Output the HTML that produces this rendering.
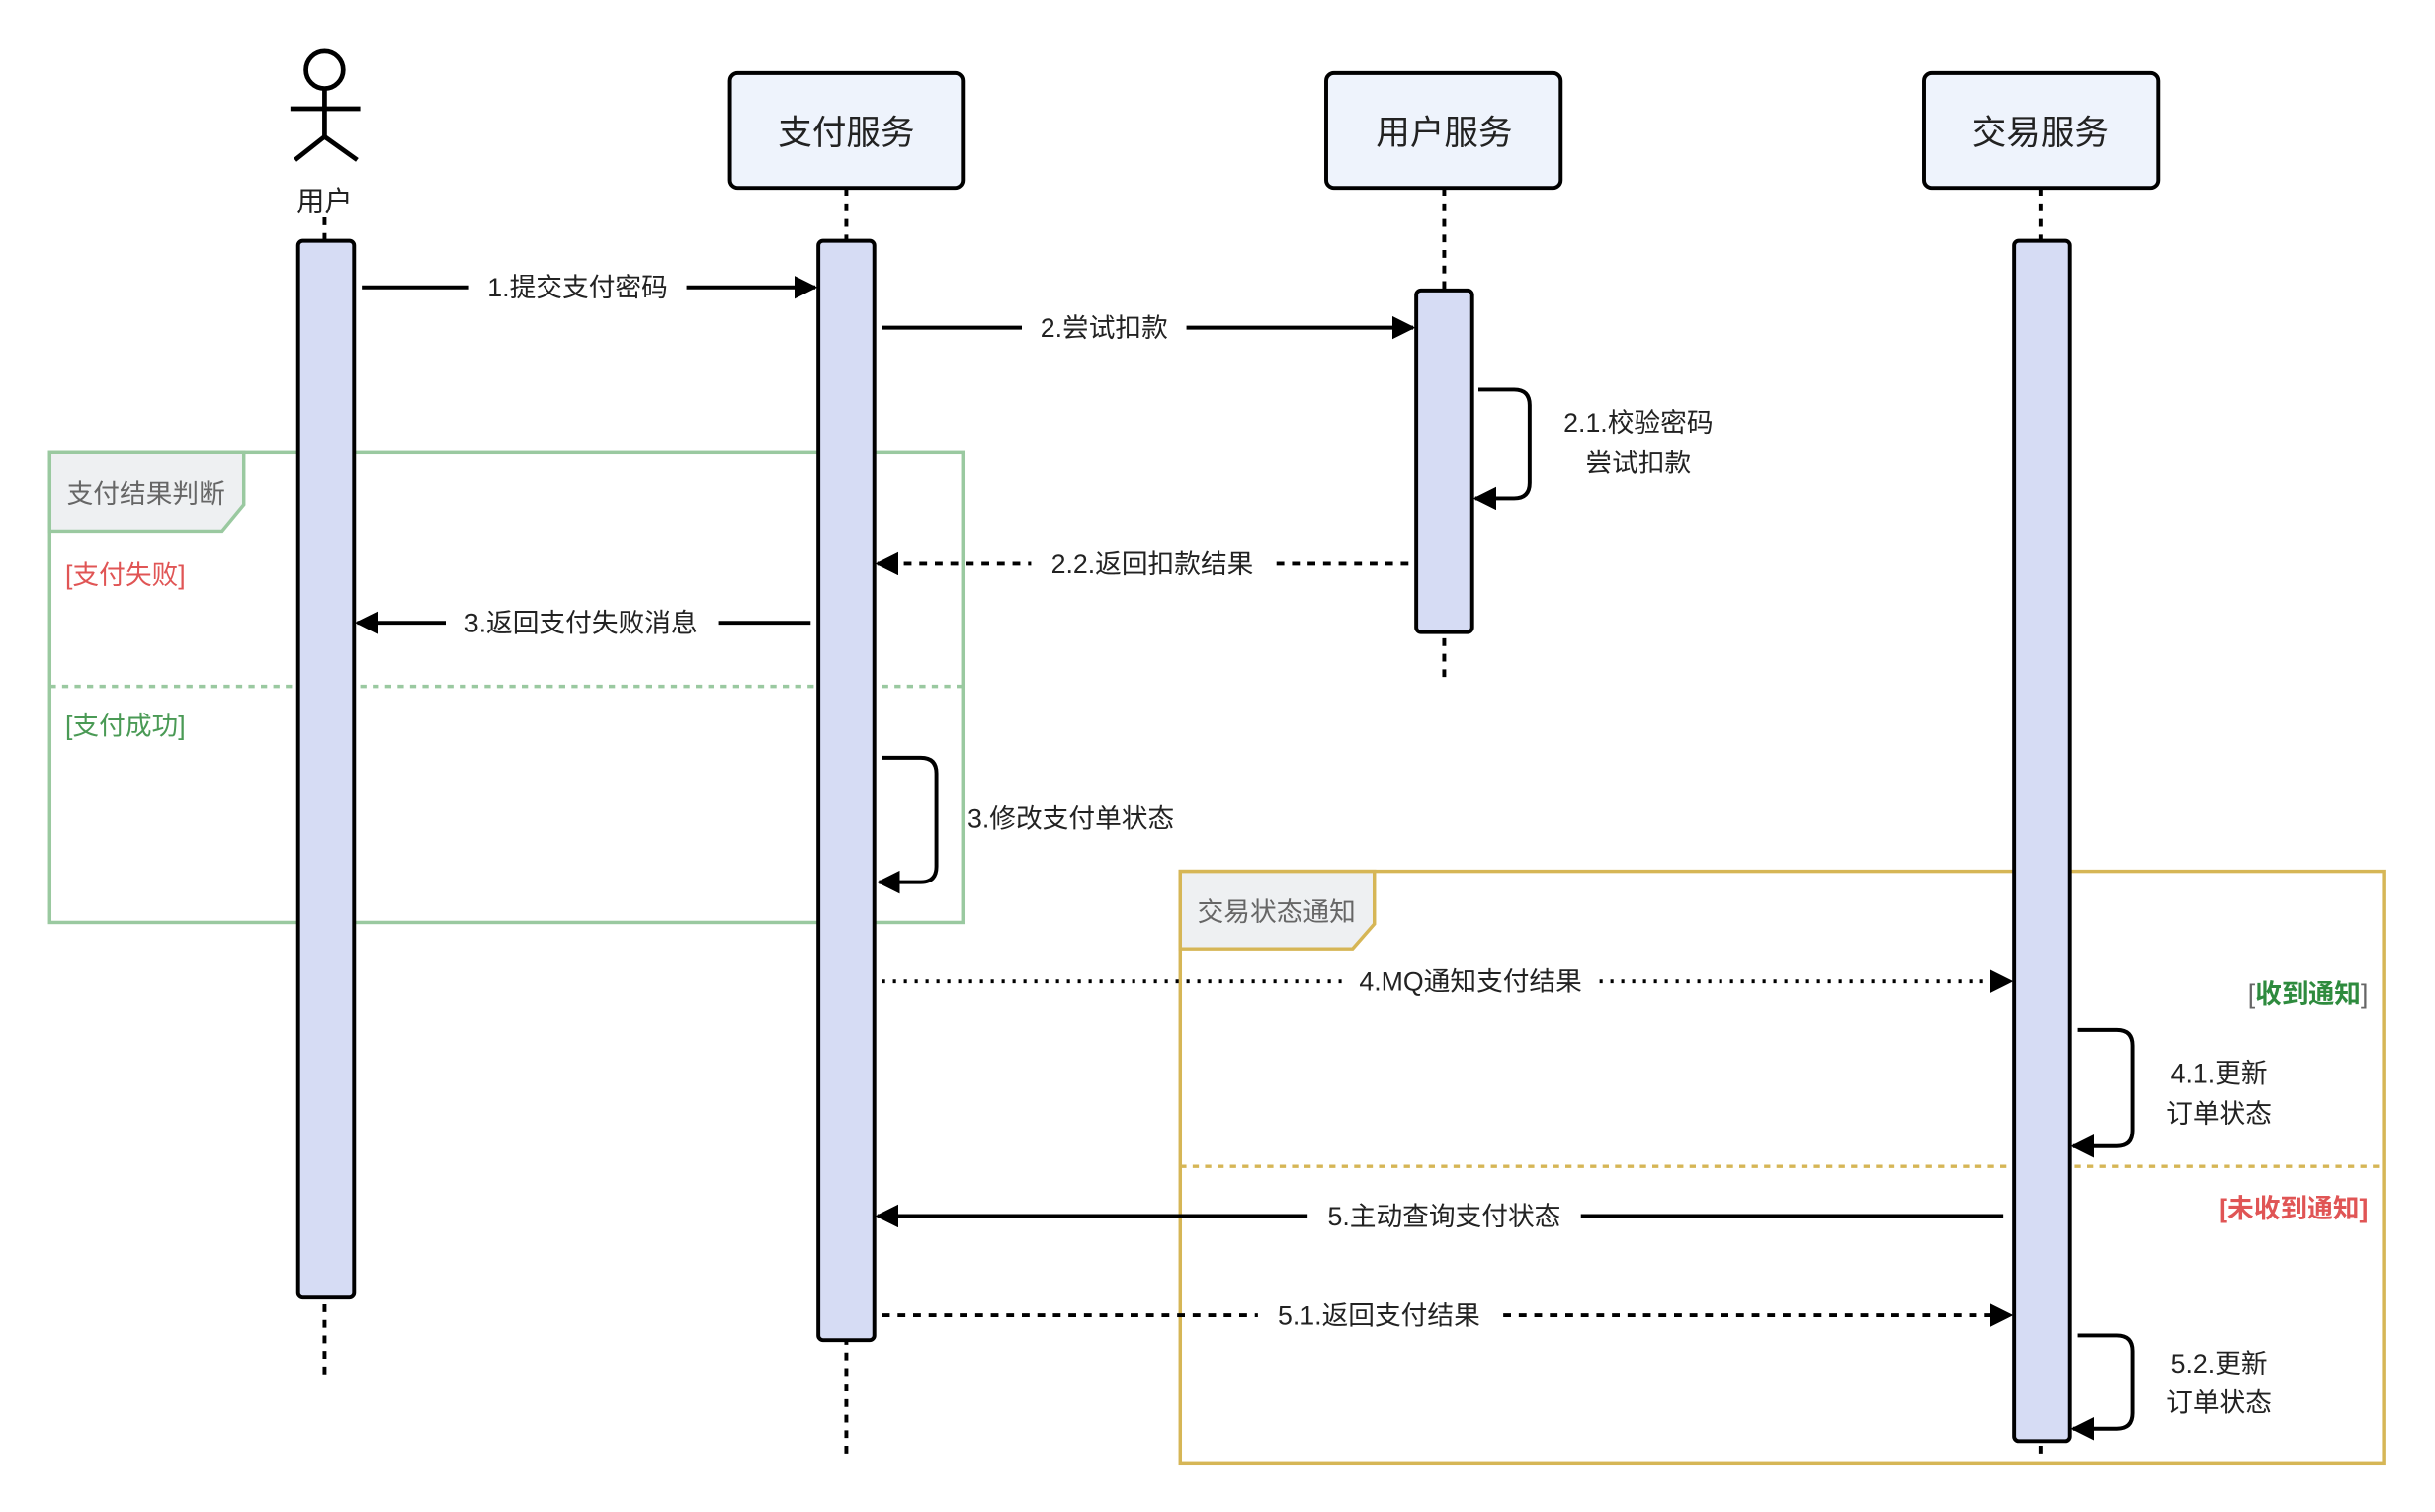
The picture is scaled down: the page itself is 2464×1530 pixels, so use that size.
<!DOCTYPE html>
<html><head><meta charset="utf-8"><style>
html,body{margin:0;padding:0;background:#fff;}
svg{display:block;}
text{font-family:"Liberation Sans","Noto Sans CJK SC",sans-serif;}
</style></head><body>
<svg width="2464" height="1530" viewBox="0 0 1568 973.6" xmlns="http://www.w3.org/2000/svg">
<defs>
<marker id="a" viewBox="0 0 10 10" refX="9" refY="5" markerWidth="6" markerHeight="6" orient="auto" markerUnits="strokeWidth"><path d="M0,0 L10,5 L0,10 z" fill="#000"/></marker>
</defs>
<rect width="1568" height="974" fill="#fff"/>

<g fill="none" stroke-width="2.2">
<rect x="32" y="291" width="588" height="303" stroke="#9ac9a0"/>
<line x1="32" y1="442" x2="620" y2="442" stroke="#9ac9a0" stroke-dasharray="4,4"/>
<rect x="760" y="561" width="775" height="381" stroke="#d6b656"/>
<line x1="760" y1="751" x2="1535" y2="751" stroke="#d6b656" stroke-dasharray="4,4"/>
</g>
<path d="M32,291 H157 V325 L143,342 H32 Z" fill="#eef0f2" stroke="#9ac9a0" stroke-width="2.2"/>
<path d="M760,561 H885 V595 L871,611 H760 Z" fill="#eef0f2" stroke="#d6b656" stroke-width="2.2"/>
<g font-size="17">
<text x="94" y="324" text-anchor="middle" fill="#666">支付结果判断</text>
<text x="822" y="593" text-anchor="middle" fill="#666">交易状态通知</text>
<text x="42" y="376" fill="#e05555">[支付失败]</text>
<text x="42" y="473" fill="#4a9a55">[支付成功]</text>
<text x="1525" y="646" text-anchor="end" fill="#666">[<tspan fill="#2e8b3e" font-weight="bold">收到通知</tspan>]</text>
<text x="1525" y="784" text-anchor="end" fill="#e05555" font-weight="bold">[未收到通知]</text>
</g>

<g stroke="#000" stroke-width="2.5" stroke-dasharray="5,5">
<line x1="209" y1="140" x2="209" y2="887"/>
<line x1="545" y1="121" x2="545" y2="940"/>
<line x1="930" y1="121" x2="930" y2="440"/>
<line x1="1314" y1="121" x2="1314" y2="940"/>
</g>

<g stroke="#000" stroke-width="3" fill="none">
<circle cx="209" cy="45" r="12" fill="#fff"/>
<line x1="209" y1="57" x2="209" y2="88"/>
<line x1="187" y1="70" x2="232" y2="70"/>
<line x1="209" y1="88" x2="190" y2="103"/>
<line x1="209" y1="88" x2="230" y2="103"/>
</g>
<text x="209" y="136" font-size="18" text-anchor="middle" fill="#222">用户</text>

<g fill="#eef3fc" stroke="#000" stroke-width="2.5">
<rect x="470" y="47" width="150" height="74" rx="5"/>
<rect x="854" y="47" width="151" height="74" rx="5"/>
<rect x="1239" y="47" width="151" height="74" rx="5"/>
</g>
<g font-size="22" text-anchor="middle" fill="#222">
<text x="545" y="93">支付服务</text>
<text x="930" y="93">用户服务</text>
<text x="1314" y="93">交易服务</text>
</g>

<g fill="#d6dcf4" stroke="#000" stroke-width="2.5">
<rect x="192" y="155" width="36" height="680" rx="3"/>
<rect x="527" y="155" width="36" height="708" rx="3"/>
<rect x="912" y="187" width="36" height="220" rx="3"/>
<rect x="1297" y="155" width="36" height="773" rx="3"/>
</g>

<g stroke="#000" stroke-width="2.5" fill="none" marker-end="url(#a)">
<line x1="233" y1="185" x2="525" y2="185"/>
<line x1="568" y1="211" x2="910" y2="211"/>
<path d="M952,251 H975 Q985,251 985,261 V311 Q985,321 975,321 H950"/>
<line x1="907" y1="363" x2="565" y2="363" stroke-dasharray="5,5"/>
<line x1="522" y1="401" x2="230" y2="401"/>
<path d="M568,488 H593 Q603,488 603,498 V558 Q603,568 593,568 H566"/>
<line x1="568" y1="632" x2="1295" y2="632" stroke-dasharray="2,5"/>
<path d="M1338,663 H1363 Q1373,663 1373,673 V728 Q1373,738 1363,738 H1335"/>
<line x1="1290" y1="783" x2="565" y2="783"/>
<line x1="568" y1="847" x2="1295" y2="847" stroke-dasharray="5,5"/>
<path d="M1338,860 H1363 Q1373,860 1373,870 V910 Q1373,920 1363,920 H1335"/>
</g>

<g font-size="17" fill="#222" text-anchor="middle">
<rect x="302" y="174" width="140" height="22" fill="#fff"/>
<text x="372" y="191">1.提交支付密码</text>
<rect x="658" y="200" width="106" height="22" fill="#fff"/>
<text x="711" y="217">2.尝试扣款</text>
<text x="1055" y="278">2.1.校验密码</text>
<text x="1055" y="304">尝试扣款</text>
<rect x="664" y="352" width="156" height="22" fill="#fff"/>
<text x="742" y="369">2.2.返回扣款结果</text>
<rect x="287" y="390" width="176" height="22" fill="#fff"/>
<text x="374" y="407">3.返回支付失败消息</text>
<text x="623" y="533" text-anchor="start">3.修改支付单状态</text>
<rect x="864" y="621" width="166" height="22" fill="#fff"/>
<text x="947" y="638">4.MQ通知支付结果</text>
<text x="1429" y="697">4.1.更新</text>
<text x="1429" y="723">订单状态</text>
<rect x="842" y="772" width="176" height="22" fill="#fff"/>
<text x="930" y="789">5.主动查询支付状态</text>
<rect x="810" y="836" width="156" height="22" fill="#fff"/>
<text x="888" y="853">5.1.返回支付结果</text>
<text x="1429" y="884">5.2.更新</text>
<text x="1429" y="909">订单状态</text>
</g>
</svg>
</body></html>
